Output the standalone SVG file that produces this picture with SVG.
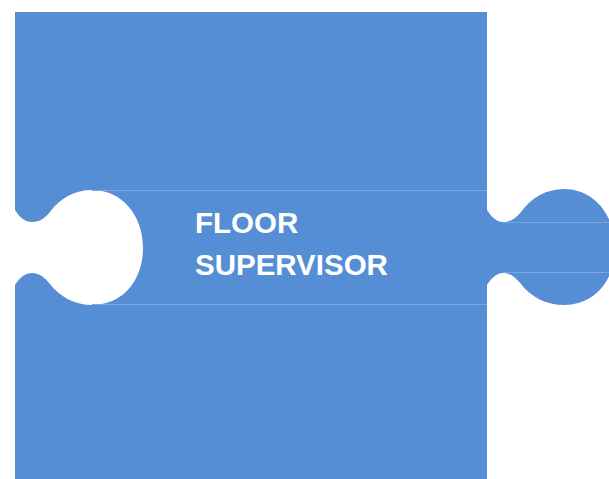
<svg xmlns="http://www.w3.org/2000/svg" width="609" height="479" viewBox="0 0 609 479">
<style>
.piece{fill:#558ED5;}
.seam{stroke:#7BA7E0;stroke-width:1;fill:none;}
.lbl{font-family:"Liberation Sans",Arial,sans-serif;font-weight:bold;font-size:29.5px;fill:#FFFFFF;}
</style>
<rect width="609" height="479" fill="#FFFFFF"/>
<g id="floor-supervisor">
<path class="piece" d="M15,12 H487 V210 C491,216 496,222 503,222 C511,222 516,218 521,212 C531,198 546,189 564,189 C594,189 615,215 615,248 C615,281 594,305 564,305 C546,305 531,297 521,284 C516,278 511,273 503,273 C496,273 491,279 487,285 V479 H15 V285 C19,279 24,273 32,273 C40,273 45,278 50,284 C60,297 75,305 92,305 C122,305 143,281 143,248 C143,215 122,190 92,190 C75,190 60,198 50,212 C45,218 40,222 32,222 C24,222 19,216 15,210 Z"/>
<path class="seam" d="M92,190.5 H487 M92,304.5 H487 M503,222.5 H609 M503,272.5 H609"/>
<text class="lbl" x="195" y="233">FLOOR</text>
<text class="lbl" x="195" y="275">SUPERVISOR</text>
</g>
</svg>
